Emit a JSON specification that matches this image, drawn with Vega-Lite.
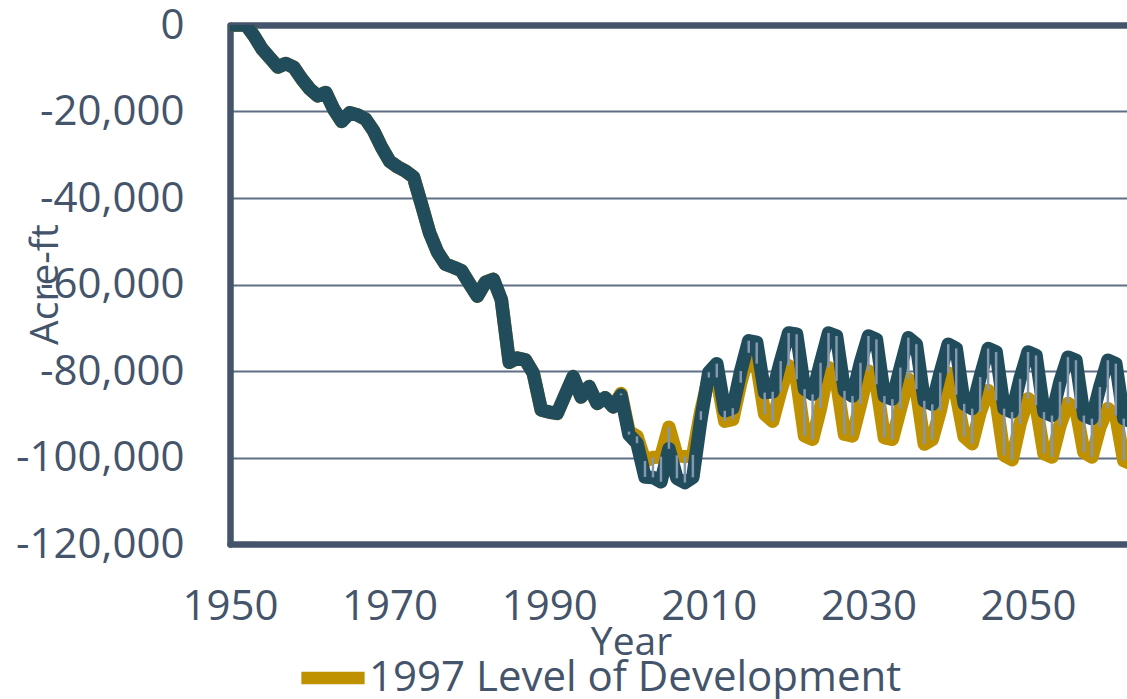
{
  "$schema": "https://vega.github.io/schema/vega-lite/v6.json",
  "width": 897,
  "height": 519,
  "autosize": {"type": "none"},
  "padding": {"left": 230, "top": 25, "right": 0, "bottom": 155},
  "background": "white",
  "config": {"view": {"stroke": null}, "font": "Open Sans"},
  "data": {
    "values": [
      {"Year": 1950, "1997 Level of Development": 0, "Other Scenario": 0},
      {"Year": 1951, "1997 Level of Development": 0, "Other Scenario": 0},
      {"Year": 1952, "1997 Level of Development": 0, "Other Scenario": 0},
      {"Year": 1953, "1997 Level of Development": -2500, "Other Scenario": -2500},
      {"Year": 1954, "1997 Level of Development": -5500, "Other Scenario": -5500},
      {"Year": 1955, "1997 Level of Development": -7600, "Other Scenario": -7600},
      {"Year": 1956, "1997 Level of Development": -9700, "Other Scenario": -9700},
      {"Year": 1957, "1997 Level of Development": -8900, "Other Scenario": -8900},
      {"Year": 1958, "1997 Level of Development": -9800, "Other Scenario": -9800},
      {"Year": 1959, "1997 Level of Development": -12500, "Other Scenario": -12500},
      {"Year": 1960, "1997 Level of Development": -14800, "Other Scenario": -14800},
      {"Year": 1961, "1997 Level of Development": -16400, "Other Scenario": -16400},
      {"Year": 1962, "1997 Level of Development": -15600, "Other Scenario": -15600},
      {"Year": 1963, "1997 Level of Development": -19500, "Other Scenario": -19500},
      {"Year": 1964, "1997 Level of Development": -22300, "Other Scenario": -22300},
      {"Year": 1965, "1997 Level of Development": -20300, "Other Scenario": -20300},
      {"Year": 1966, "1997 Level of Development": -20800, "Other Scenario": -20800},
      {"Year": 1967, "1997 Level of Development": -21800, "Other Scenario": -21800},
      {"Year": 1968, "1997 Level of Development": -24500, "Other Scenario": -24500},
      {"Year": 1969, "1997 Level of Development": -28300, "Other Scenario": -28300},
      {"Year": 1970, "1997 Level of Development": -31500, "Other Scenario": -31500},
      {"Year": 1971, "1997 Level of Development": -32800, "Other Scenario": -32800},
      {"Year": 1972, "1997 Level of Development": -33800, "Other Scenario": -33800},
      {"Year": 1973, "1997 Level of Development": -35200, "Other Scenario": -35200},
      {"Year": 1974, "1997 Level of Development": -41500, "Other Scenario": -41500},
      {"Year": 1975, "1997 Level of Development": -48000, "Other Scenario": -48000},
      {"Year": 1976, "1997 Level of Development": -52500, "Other Scenario": -52500},
      {"Year": 1977, "1997 Level of Development": -55300, "Other Scenario": -55300},
      {"Year": 1978, "1997 Level of Development": -56000, "Other Scenario": -56000},
      {"Year": 1979, "1997 Level of Development": -56800, "Other Scenario": -56800},
      {"Year": 1980, "1997 Level of Development": -59800, "Other Scenario": -59800},
      {"Year": 1981, "1997 Level of Development": -62700, "Other Scenario": -62700},
      {"Year": 1982, "1997 Level of Development": -59500, "Other Scenario": -59500},
      {"Year": 1983, "1997 Level of Development": -58800, "Other Scenario": -58800},
      {"Year": 1984, "1997 Level of Development": -63500, "Other Scenario": -63500},
      {"Year": 1985, "1997 Level of Development": -78000, "Other Scenario": -78000},
      {"Year": 1986, "1997 Level of Development": -77000, "Other Scenario": -77000},
      {"Year": 1987, "1997 Level of Development": -77400, "Other Scenario": -77400},
      {"Year": 1988, "1997 Level of Development": -80500, "Other Scenario": -80500},
      {"Year": 1989, "1997 Level of Development": -89000, "Other Scenario": -89000},
      {"Year": 1990, "1997 Level of Development": -89500, "Other Scenario": -89500},
      {"Year": 1991, "1997 Level of Development": -89800, "Other Scenario": -89800},
      {"Year": 1992, "1997 Level of Development": -85500, "Other Scenario": -85500},
      {"Year": 1993, "1997 Level of Development": -81300, "Other Scenario": -81300},
      {"Year": 1994, "1997 Level of Development": -86000, "Other Scenario": -86000},
      {"Year": 1995, "1997 Level of Development": -83600, "Other Scenario": -83600},
      {"Year": 1996, "1997 Level of Development": -87500, "Other Scenario": -87500},
      {"Year": 1997, "1997 Level of Development": -86200, "Other Scenario": -86200},
      {"Year": 1998, "1997 Level of Development": -88300, "Other Scenario": -88300},
      {"Year": 1999, "1997 Level of Development": -85200, "Other Scenario": -85600},
      {"Year": 2000, "1997 Level of Development": -94000, "Other Scenario": -94700},
      {"Year": 2001, "1997 Level of Development": -95100, "Other Scenario": -96700},
      {"Year": 2002, "1997 Level of Development": -100800, "Other Scenario": -104500},
      {"Year": 2003, "1997 Level of Development": -100000, "Other Scenario": -104600},
      {"Year": 2004, "1997 Level of Development": -99800, "Other Scenario": -105600},
      {"Year": 2005, "1997 Level of Development": -93000, "Other Scenario": -98000},
      {"Year": 2006, "1997 Level of Development": -99500, "Other Scenario": -104800},
      {"Year": 2007, "1997 Level of Development": -99800, "Other Scenario": -105800},
      {"Year": 2008, "1997 Level of Development": -99400, "Other Scenario": -104600},
      {"Year": 2009, "1997 Level of Development": -89300, "Other Scenario": -91300},
      {"Year": 2010, "1997 Level of Development": -81500, "Other Scenario": -80300},
      {"Year": 2011, "1997 Level of Development": -81500, "Other Scenario": -78300},
      {"Year": 2012, "1997 Level of Development": -91600, "Other Scenario": -89200},
      {"Year": 2013, "1997 Level of Development": -91200, "Other Scenario": -88600},
      {"Year": 2014, "1997 Level of Development": -82700, "Other Scenario": -80000},
      {"Year": 2015, "1997 Level of Development": -75800, "Other Scenario": -73000},
      {"Year": 2016, "1997 Level of Development": -78300, "Other Scenario": -73400},
      {"Year": 2017, "1997 Level of Development": -90000, "Other Scenario": -85000},
      {"Year": 2018, "1997 Level of Development": -91600, "Other Scenario": -84800},
      {"Year": 2019, "1997 Level of Development": -84700, "Other Scenario": -77700},
      {"Year": 2020, "1997 Level of Development": -78800, "Other Scenario": -71200},
      {"Year": 2021, "1997 Level of Development": -81900, "Other Scenario": -71500},
      {"Year": 2022, "1997 Level of Development": -95000, "Other Scenario": -84200},
      {"Year": 2023, "1997 Level of Development": -95800, "Other Scenario": -85400},
      {"Year": 2024, "1997 Level of Development": -88500, "Other Scenario": -78100},
      {"Year": 2025, "1997 Level of Development": -79200, "Other Scenario": -71200},
      {"Year": 2026, "1997 Level of Development": -82300, "Other Scenario": -71900},
      {"Year": 2027, "1997 Level of Development": -94600, "Other Scenario": -84600},
      {"Year": 2028, "1997 Level of Development": -95000, "Other Scenario": -85800},
      {"Year": 2029, "1997 Level of Development": -87700, "Other Scenario": -78100},
      {"Year": 2030, "1997 Level of Development": -80000, "Other Scenario": -71900},
      {"Year": 2031, "1997 Level of Development": -83100, "Other Scenario": -72700},
      {"Year": 2032, "1997 Level of Development": -95400, "Other Scenario": -85800},
      {"Year": 2033, "1997 Level of Development": -95800, "Other Scenario": -86500},
      {"Year": 2034, "1997 Level of Development": -88800, "Other Scenario": -79200},
      {"Year": 2035, "1997 Level of Development": -81900, "Other Scenario": -72300},
      {"Year": 2036, "1997 Level of Development": -84200, "Other Scenario": -73800},
      {"Year": 2037, "1997 Level of Development": -96900, "Other Scenario": -86900},
      {"Year": 2038, "1997 Level of Development": -95800, "Other Scenario": -87700},
      {"Year": 2039, "1997 Level of Development": -89200, "Other Scenario": -80400},
      {"Year": 2040, "1997 Level of Development": -80500, "Other Scenario": -73800},
      {"Year": 2041, "1997 Level of Development": -85500, "Other Scenario": -74800},
      {"Year": 2042, "1997 Level of Development": -95200, "Other Scenario": -87600},
      {"Year": 2043, "1997 Level of Development": -96800, "Other Scenario": -88700},
      {"Year": 2044, "1997 Level of Development": -89500, "Other Scenario": -81400},
      {"Year": 2045, "1997 Level of Development": -84500, "Other Scenario": -74800},
      {"Year": 2046, "1997 Level of Development": -86800, "Other Scenario": -75600},
      {"Year": 2047, "1997 Level of Development": -99500, "Other Scenario": -88700},
      {"Year": 2048, "1997 Level of Development": -100500, "Other Scenario": -89500},
      {"Year": 2049, "1997 Level of Development": -92200, "Other Scenario": -81800},
      {"Year": 2050, "1997 Level of Development": -86400, "Other Scenario": -75600},
      {"Year": 2051, "1997 Level of Development": -87900, "Other Scenario": -76400},
      {"Year": 2052, "1997 Level of Development": -99100, "Other Scenario": -89500},
      {"Year": 2053, "1997 Level of Development": -99900, "Other Scenario": -90300},
      {"Year": 2054, "1997 Level of Development": -92600, "Other Scenario": -82500},
      {"Year": 2055, "1997 Level of Development": -87500, "Other Scenario": -76800},
      {"Year": 2056, "1997 Level of Development": -88700, "Other Scenario": -77500},
      {"Year": 2057, "1997 Level of Development": -98800, "Other Scenario": -90300},
      {"Year": 2058, "1997 Level of Development": -99900, "Other Scenario": -91000},
      {"Year": 2059, "1997 Level of Development": -93000, "Other Scenario": -83700},
      {"Year": 2060, "1997 Level of Development": -88700, "Other Scenario": -77500},
      {"Year": 2061, "1997 Level of Development": -90300, "Other Scenario": -78300},
      {"Year": 2062, "1997 Level of Development": -100700, "Other Scenario": -91000},
      {"Year": 2063, "1997 Level of Development": -101500, "Other Scenario": -91800},
      {"Year": 2064, "1997 Level of Development": -94000, "Other Scenario": -84500}
    ]
  },
  "layer": [
    {
      "transform": [
        {"fold": ["1997 Level of Development", "Other Scenario"], "as": ["Series", "Value"]},
        {"filter": "datum.Series === '1997 Level of Development'"}
      ],
      "mark": {"type": "line", "strokeWidth": 13.5, "strokeJoin": "round", "strokeCap": "round", "clip": true},
      "encoding": {
        "x": {
          "field": "Year", "type": "quantitative",
          "scale": {"domain": [1950, 2062.4], "nice": false, "zero": false},
          "axis": {
            "title": "Year", "values": [1950, 1970, 1990, 2010, 2030, 2050], "format": "d",
            "labelFlush": false, "labelFont": "Open Sans", "labelFontSize": 42, "labelColor": "#44546a",
            "labelPadding": 42, "ticks": false, "tickSize": 0, "domainColor": "#44546a", "domainWidth": 6.5,
            "domainCap": "round", "grid": false,
            "titleFont": "Open Sans", "titleFontSize": 39, "titleColor": "#44546a", "titleFontWeight": "normal",
            "titleX": 401, "titleY": 110, "titleBaseline": "alphabetic", "titleAlign": "center"
          }
        },
        "y": {
          "field": "Value", "type": "quantitative",
          "scale": {"domain": [-120000, 0], "nice": false},
          "axis": {
            "title": "Acre-ft", "values": [-120000, -100000, -80000, -60000, -40000, -20000, 0],
            "labelExpr": "replace(format(datum.value, ','), '\u2212', '-')",
            "labelFont": "Open Sans", "labelFontSize": 42, "labelColor": "#44546a", "labelPadding": 46,
            "labelFlush": false, "labelOverlap": false,
            "ticks": false, "tickSize": 0, "domainColor": "#44546a", "domainWidth": 6.5, "domainCap": "round",
            "grid": true,
            "gridColor": {"condition": {"test": "datum.value === 0", "value": "#44546a"}, "value": "#5e6e84"},
            "gridWidth": {"condition": {"test": "datum.value === 0", "value": 6.5}, "value": 2},
            "titleFont": "Open Sans", "titleFontSize": 39, "titleColor": "#44546a", "titleFontWeight": "normal",
            "titleX": -185, "titleY": 259, "titleAngle": -90, "titleBaseline": "middle", "titleAlign": "center"
          }
        },
        "color": {
          "field": "Series", "type": "nominal",
          "scale": {"domain": ["1997 Level of Development", "Other Scenario"], "range": ["#bf9000", "#204c5b"]},
          "legend": {
            "orient": "none", "legendX": 65, "legendY": 615, "values": ["1997 Level of Development"],
            "title": null, "symbolType": "stroke", "symbolStrokeWidth": 12.5, "symbolSize": 4000,
            "labelFont": "Open Sans", "labelFontSize": 42, "labelColor": "#44546a", "labelOffset": -2,
            "labelLimit": 1000, "padding": 0
          }
        }
      }
    },
    {
      "transform": [
        {"fold": ["1997 Level of Development", "Other Scenario"], "as": ["Series", "Value"]},
        {"filter": "datum.Series === 'Other Scenario'"}
      ],
      "mark": {"type": "line", "strokeWidth": 13.5, "strokeJoin": "round", "strokeCap": "round", "clip": true},
      "encoding": {
        "x": {"field": "Year", "type": "quantitative"},
        "y": {"field": "Value", "type": "quantitative"},
        "color": {"field": "Series", "type": "nominal"}
      }
    },
    {
      "mark": {"type": "rule", "strokeWidth": 2.5, "color": "#8497b0", "clip": true},
      "encoding": {
        "x": {"field": "Year", "type": "quantitative"},
        "y": {"field": "Other Scenario", "type": "quantitative"},
        "y2": {"field": "1997 Level of Development"}
      }
    }
  ]
}
